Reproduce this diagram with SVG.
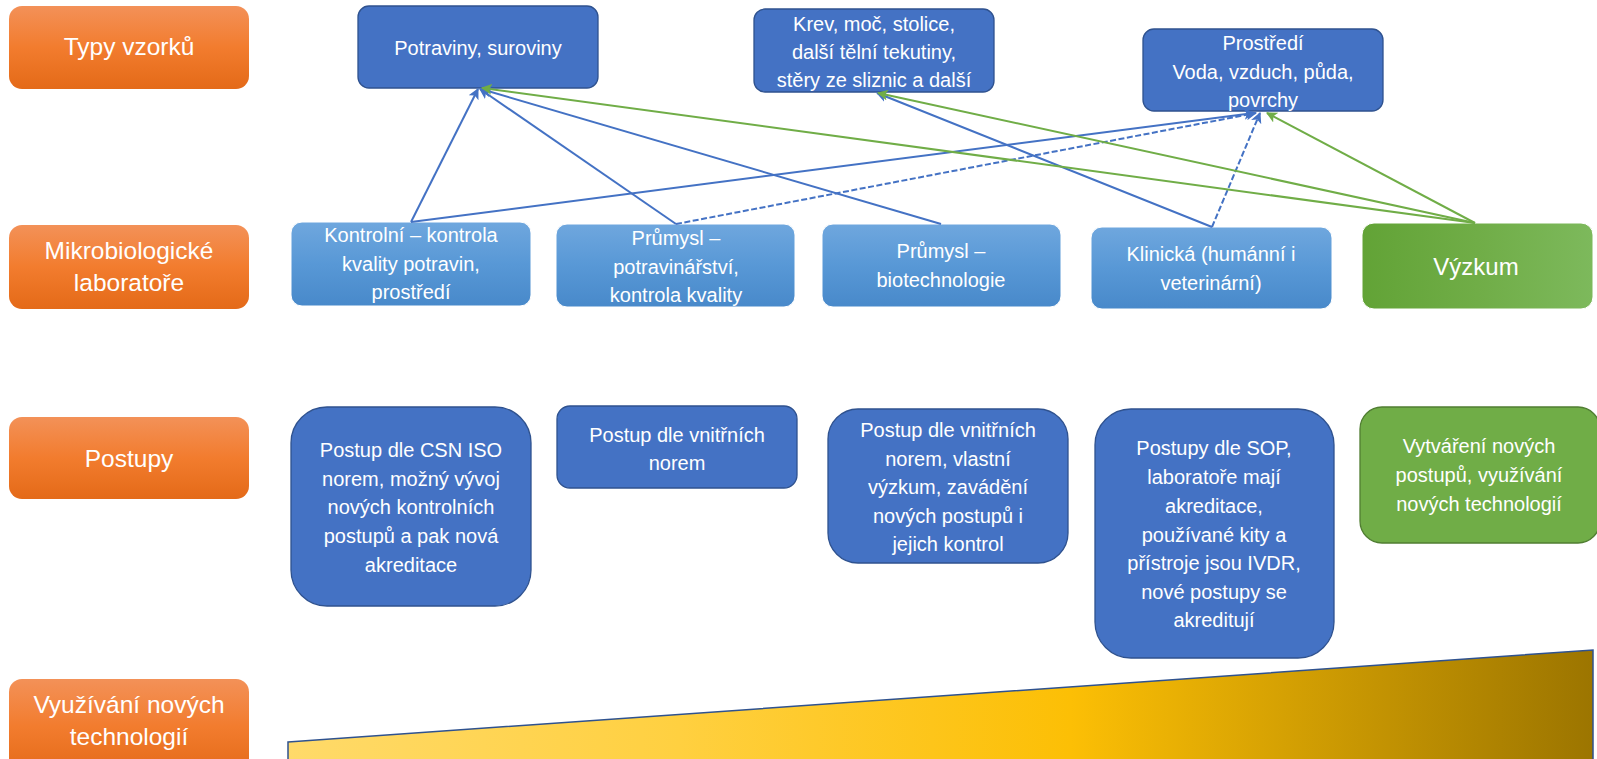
<svg xmlns="http://www.w3.org/2000/svg" width="1597" height="759" viewBox="0 0 1597 759">
  <style>
    text { font-family: "Liberation Sans", Arial, sans-serif; fill: #ffffff; text-anchor: middle; }
    .lbl { font-size: 24.5px; }
    .t20 { font-size: 20px; }
    .big { font-size: 24px; }
    .cat { fill: url(#gOrange); }
    .sample { fill: #4472c4; stroke: #2f528f; stroke-width: 1.3; }
    .lab { fill: url(#gLab); stroke: #ffffff; stroke-width: 1; }
    .proc { fill: #4472c4; stroke: #2f528f; stroke-width: 1.3; }
    .procG { fill: #70ad47; stroke: #507e32; stroke-width: 1.3; }
    .cb { fill: none; stroke: #4472c4; stroke-width: 2; marker-end: url(#ahB); }
    .cbd { fill: none; stroke: #4472c4; stroke-width: 2; stroke-dasharray: 6 2.5; marker-end: url(#ahB); }
    .cg { fill: none; stroke: #70ad47; stroke-width: 2; marker-end: url(#ahG); }
  </style>
  <defs>
    <linearGradient id="gOrange" x1="0" y1="0" x2="0" y2="1">
      <stop offset="0" stop-color="#f39158"/>
      <stop offset="0.5" stop-color="#f27c2e"/>
      <stop offset="1" stop-color="#e46a18"/>
    </linearGradient>
    <linearGradient id="gLab" x1="0" y1="0" x2="0" y2="1">
      <stop offset="0" stop-color="#6fa7de"/>
      <stop offset="0.5" stop-color="#5898d6"/>
      <stop offset="1" stop-color="#4889ca"/>
    </linearGradient>
    <linearGradient id="gResearch" x1="0" y1="0" x2="1" y2="0">
      <stop offset="0" stop-color="#62a336"/>
      <stop offset="0.5" stop-color="#70ad47"/>
      <stop offset="1" stop-color="#7db95c"/>
    </linearGradient>
    <linearGradient id="gWedge" gradientUnits="userSpaceOnUse" x1="288" y1="0" x2="1593" y2="0">
      <stop offset="0" stop-color="#ffda6a"/>
      <stop offset="0.3" stop-color="#ffd040"/>
      <stop offset="0.6" stop-color="#fcbf05"/>
      <stop offset="1" stop-color="#9c7500"/>
    </linearGradient>
    <marker id="ahB" viewBox="0 0 10 10" refX="9" refY="5" markerWidth="11" markerHeight="11" markerUnits="userSpaceOnUse" orient="auto">
      <path d="M0,0 L10,5 L0,10 L2.5,5 Z" fill="#4472c4"/>
    </marker>
    <marker id="ahG" viewBox="0 0 10 10" refX="9" refY="5" markerWidth="11" markerHeight="11" markerUnits="userSpaceOnUse" orient="auto">
      <path d="M0,0 L10,5 L0,10 L2.5,5 Z" fill="#70ad47"/>
    </marker>
  </defs>

  <!-- row headings -->
  <g id="cat-typy">
    <rect class="cat" x="9" y="6" width="240" height="83" rx="13"/>
    <text class="lbl" x="129" y="55">Typy vzorků</text>
  </g>
  <g id="cat-lab">
    <rect class="cat" x="9" y="225" width="240" height="84" rx="13"/>
    <text class="lbl" x="129" y="259">Mikrobiologické</text>
    <text class="lbl" x="129" y="291">laboratoře</text>
  </g>
  <g id="cat-postupy">
    <rect class="cat" x="9" y="417" width="240" height="82" rx="13"/>
    <text class="lbl" x="129" y="467">Postupy</text>
  </g>
  <g id="cat-tech">
    <rect class="cat" x="9" y="679" width="240" height="95" rx="13"/>
    <text class="lbl" x="129" y="713">Využívání nových</text>
    <text class="lbl" x="129" y="745">technologií</text>
  </g>

  <!-- sample types -->
  <g id="s-potraviny">
    <rect class="sample" x="358" y="6" width="240" height="82" rx="11"/>
    <text class="t20" x="478" y="55">Potraviny, suroviny</text>
  </g>
  <g id="s-krev">
    <rect class="sample" x="754" y="9" width="240" height="83" rx="11"/>
    <text class="t20" x="874" y="31">Krev, moč, stolice,</text>
    <text class="t20" x="874" y="59">další tělní tekutiny,</text>
    <text class="t20" x="874" y="87">stěry ze sliznic a další</text>
  </g>
  <g id="s-prostredi">
    <rect class="sample" x="1143" y="29" width="240" height="82" rx="11"/>
    <text class="t20" x="1263" y="50">Prostředí</text>
    <text class="t20" x="1263" y="79">Voda, vzduch, půda,</text>
    <text class="t20" x="1263" y="107">povrchy</text>
  </g>

  <!-- laboratory types -->
  <g id="l-kontrolni">
    <rect class="lab" x="291" y="222" width="240" height="84" rx="11"/>
    <text class="t20" x="411" y="242">Kontrolní – kontrola</text>
    <text class="t20" x="411" y="271">kvality potravin,</text>
    <text class="t20" x="411" y="299">prostředí</text>
  </g>
  <g id="l-potravinarstvi">
    <rect class="lab" x="556" y="224" width="239" height="83" rx="11"/>
    <text class="t20" x="676" y="245">Průmysl –</text>
    <text class="t20" x="676" y="274">potravinářství,</text>
    <text class="t20" x="676" y="302">kontrola kvality</text>
  </g>
  <g id="l-biotech">
    <rect class="lab" x="822" y="224" width="239" height="83" rx="11"/>
    <text class="t20" x="941" y="258">Průmysl –</text>
    <text class="t20" x="941" y="287">biotechnologie</text>
  </g>
  <g id="l-klinicka">
    <rect class="lab" x="1091" y="227" width="241" height="82" rx="11"/>
    <text class="t20" x="1211" y="261">Klinická (humánní i</text>
    <text class="t20" x="1211" y="290">veterinární)</text>
  </g>
  <g id="l-vyzkum">
    <rect x="1362" y="223" width="231" height="86" rx="12" fill="url(#gResearch)" stroke="#ffffff" stroke-width="1"/>
    <text class="big" x="1476" y="275">Výzkum</text>
  </g>

  <!-- procedures -->
  <g id="p-csn">
    <rect class="proc" x="291" y="407" width="240" height="199" rx="36"/>
    <text class="t20" x="411" y="457">Postup dle CSN ISO</text>
    <text class="t20" x="411" y="486">norem, možný vývoj</text>
    <text class="t20" x="411" y="514">nových kontrolních</text>
    <text class="t20" x="411" y="543">postupů a pak nová</text>
    <text class="t20" x="411" y="572">akreditace</text>
  </g>
  <g id="p-vnitrni">
    <rect class="proc" x="557" y="406" width="240" height="82" rx="13"/>
    <text class="t20" x="677" y="442">Postup dle vnitřních</text>
    <text class="t20" x="677" y="470">norem</text>
  </g>
  <g id="p-vyzkum">
    <rect class="proc" x="828" y="409" width="240" height="154" rx="30"/>
    <text class="t20" x="948" y="437">Postup dle vnitřních</text>
    <text class="t20" x="948" y="466">norem, vlastní</text>
    <text class="t20" x="948" y="494">výzkum, zavádění</text>
    <text class="t20" x="948" y="523">nových postupů i</text>
    <text class="t20" x="948" y="551">jejich kontrol</text>
  </g>
  <g id="p-sop">
    <rect class="proc" x="1095" y="409" width="239" height="249" rx="36"/>
    <text class="t20" x="1214" y="455">Postupy  dle SOP,</text>
    <text class="t20" x="1214" y="484">laboratoře mají</text>
    <text class="t20" x="1214" y="513">akreditace,</text>
    <text class="t20" x="1214" y="542">používané kity a</text>
    <text class="t20" x="1214" y="570">přístroje jsou IVDR,</text>
    <text class="t20" x="1214" y="599">nové postupy se</text>
    <text class="t20" x="1214" y="627">akreditují</text>
  </g>
  <g id="p-nove">
    <rect class="procG" x="1360" y="407" width="240" height="136" rx="22"/>
    <text class="t20" x="1479" y="453">Vytváření nových</text>
    <text class="t20" x="1479" y="482">postupů, využívání</text>
    <text class="t20" x="1479" y="511">nových technologií</text>
  </g>

  <!-- rising technology wedge -->
  <g id="wedge">
    <polygon points="288,742 1593,650 1593,762 288,762" fill="url(#gWedge)" stroke="#2f528f" stroke-width="1.5"/>
  </g>

  <!-- connectors -->
  <g id="connectors">
    <line class="cb" x1="411" y1="222" x2="478" y2="89"/>
    <line class="cb" x1="676" y1="224" x2="480" y2="89"/>
    <line class="cb" x1="941" y1="224" x2="481" y2="89"/>
    <line class="cb" x1="411" y1="222" x2="1254" y2="113"/>
    <path class="cbd" d="M676,224 L1256,113"/>
    <line class="cb" x1="1212" y1="227" x2="877" y2="93"/>
    <path class="cbd" d="M1212,227 L1260,113"/>
    <line class="cg" x1="1475" y1="223" x2="482" y2="88"/>
    <line class="cg" x1="1475" y1="223" x2="878" y2="93"/>
    <line class="cg" x1="1475" y1="223" x2="1267" y2="113"/>
  </g>
</svg>
